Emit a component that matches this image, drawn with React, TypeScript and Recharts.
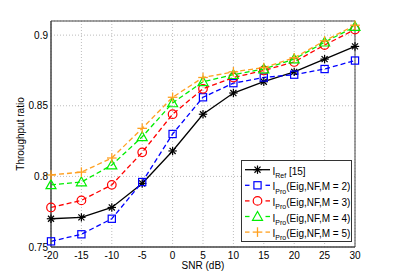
import React from "react";
import {
  LineChart,
  Line,
  XAxis,
  YAxis,
  CartesianGrid,
  Legend,
  ReferenceArea,
} from "recharts";

// values
const snrDb = [-20, -15, -10, -5, 0, 5, 10, 15, 20, 25, 30];
const refValues = [0.77, 0.771, 0.778, 0.795, 0.818, 0.844, 0.859, 0.867, 0.874, 0.883, 0.892];
const m2Values = [0.754, 0.759, 0.77, 0.796, 0.83, 0.856, 0.866, 0.87, 0.872, 0.876, 0.882];
const m3Values = [0.778, 0.783, 0.794, 0.817, 0.844, 0.862, 0.87, 0.875, 0.881, 0.893, 0.904];
const m4Values = [0.794, 0.796, 0.808, 0.828, 0.852, 0.867, 0.872, 0.876, 0.883, 0.895, 0.906];
const m5Values = [0.801, 0.803, 0.813, 0.834, 0.856, 0.87, 0.874, 0.877, 0.884, 0.896, 0.907];
const yTicks = [0.75, 0.8, 0.85, 0.9];

type MarkerKind = "asterisk" | "square" | "circle" | "triangle" | "plus";

interface SeriesDef {
  key: string;
  sub: string;
  tail: string;
  color: string;
  marker: MarkerKind;
  dashed: boolean;
}

const series: SeriesDef[] = [
  { key: "ref", sub: "Ref", tail: " [15]", color: "#000000", marker: "asterisk", dashed: false },
  { key: "m2", sub: "Pro", tail: "(Eig,NF,M = 2)", color: "#0000ff", marker: "square", dashed: true },
  { key: "m3", sub: "Pro", tail: "(Eig,NF,M = 3)", color: "#ff0000", marker: "circle", dashed: true },
  { key: "m4", sub: "Pro", tail: "(Eig,NF,M = 4)", color: "#00ee00", marker: "triangle", dashed: true },
  { key: "m5", sub: "Pro", tail: "(Eig,NF,M = 5)", color: "#ffa020", marker: "plus", dashed: true },
];

const data = snrDb.map((snr, i) => ({
  snr,
  ref: refValues[i],
  m2: m2Values[i],
  m3: m3Values[i],
  m4: m4Values[i],
  m5: m5Values[i],
}));

const FONT = "'Liberation Sans', Arial, Helvetica, sans-serif";

function Marker(props: { kind: MarkerKind; cx: number; cy: number; color: string }) {
  const { kind, cx, cy, color } = props;
  const sw = 1.2;
  if (kind === "asterisk") {
    const r = 4.2;
    const d = r * 0.72;
    return (
      <g stroke={color} strokeWidth={sw}>
        <line x1={cx - r} y1={cy} x2={cx + r} y2={cy} />
        <line x1={cx} y1={cy - r} x2={cx} y2={cy + r} />
        <line x1={cx - d} y1={cy - d} x2={cx + d} y2={cy + d} />
        <line x1={cx - d} y1={cy + d} x2={cx + d} y2={cy - d} />
      </g>
    );
  }
  if (kind === "square") {
    return <rect x={cx - 3.6} y={cy - 3.6} width={7.2} height={7.2} fill="none" stroke={color} strokeWidth={sw} />;
  }
  if (kind === "circle") {
    return <circle cx={cx} cy={cy} r={4.3} fill="none" stroke={color} strokeWidth={sw} />;
  }
  if (kind === "triangle") {
    return (
      <polygon
        points={`${cx},${cy - 5} ${cx - 5},${cy + 3.8} ${cx + 5},${cy + 3.8}`}
        fill="none"
        stroke={color}
        strokeWidth={sw}
      />
    );
  }
  const r = 4.8;
  return (
    <g stroke={color} strokeWidth={1.3}>
      <line x1={cx - r} y1={cy} x2={cx + r} y2={cy} />
      <line x1={cx} y1={cy - r} x2={cx} y2={cy + r} />
    </g>
  );
}

function renderLegend() {
  return (
    <div
      style={{
        width: 111,
        height: 82,
        background: "#fff",
        border: "1px solid #333",
        boxSizing: "border-box",
      }}
    >
      <svg width={109} height={80} style={{ display: "block" }}>
        {series.map((s, i) => {
          const cy = 8.7 + i * 15.6;
          return (
            <g key={s.key}>
              {s.dashed ? (
                <g stroke={s.color} strokeWidth={1.3}>
                  <line x1={3} y1={cy} x2={7.5} y2={cy} />
                  <line x1={23.5} y1={cy} x2={28} y2={cy} />
                </g>
              ) : (
                <line x1={3} y1={cy} x2={28} y2={cy} stroke={s.color} strokeWidth={1.3} />
              )}
              <Marker kind={s.marker} cx={15.5} cy={cy} color={s.color} />
              <text x={30.5} y={cy + 5} fontFamily={FONT} fontSize={10} fill="#000">
                I
                <tspan fontSize={7} dy={3.2}>
                  {s.sub}
                </tspan>
                <tspan dy={-3.2}>{s.tail}</tspan>
              </text>
            </g>
          );
        })}
      </svg>
    </div>
  );
}

function YLabel(props: any) {
  const vb = props.viewBox || { x: 0, y: 0, height: 0 };
  const x = vb.x + 23.5;
  const y = vb.y + vb.height / 2;
  return (
    <text
      x={x}
      y={y}
      transform={`rotate(-90 ${x} ${y})`}
      textAnchor="middle"
      fontFamily={FONT}
      fontSize={10}
      fill="#000"
    >
      Throughput ratio
    </text>
  );
}

export default function App() {
  return (
    <div style={{ position: "absolute", left: 0, top: 0, width: 393, height: 278, background: "#fff" }}>
      <LineChart
        width={393}
        height={278}
        data={data}
        margin={{ top: 21, right: 38, left: 0, bottom: 0 }}
      >
        <CartesianGrid stroke="#bdbdbd" strokeDasharray="1 2" />
        <XAxis
          dataKey="snr"
          type="number"
          domain={[-20, 30]}
          ticks={snrDb}
          height={31}
          tickSize={0}
          tickMargin={5}
          tickLine={false}
          axisLine={{ stroke: "#444" }}
          tick={{ fill: "#000", fontSize: 10, fontFamily: FONT }}
          label={{
            value: "SNR (dB)",
            position: "insideBottom",
            offset: 9,
            fill: "#000",
            fontSize: 10,
            fontFamily: FONT,
          }}
        />
        <YAxis
          type="number"
          domain={[0.75, 0.91]}
          ticks={yTicks}
          width={51}
          tickSize={0}
          tickMargin={3}
          tickLine={false}
          axisLine={{ stroke: "#444" }}
          tick={{ fill: "#000", fontSize: 10, fontFamily: FONT }}
          label={<YLabel />}
        />
        <ReferenceArea x1={-20} x2={30} y1={0.75} y2={0.91} fill="none" stroke="#444" strokeWidth={1} />
        {series.map((s) => (
          <Line
            key={s.key}
            dataKey={s.key}
            stroke={s.color}
            strokeWidth={1.3}
            strokeDasharray={s.dashed ? "5 3" : undefined}
            isAnimationActive={false}
            dot={(p: any) => (
              <Marker key={`${s.key}-${p.index}`} kind={s.marker} cx={p.cx} cy={p.cy} color={s.color} />
            )}
            activeDot={false}
          />
        ))}
        <Legend
          content={renderLegend}
          layout="vertical"
          align="center"
          verticalAlign="middle"
          wrapperStyle={{ left: 241, top: 160, width: 111, height: 82 }}
        />
      </LineChart>
    </div>
  );
}
